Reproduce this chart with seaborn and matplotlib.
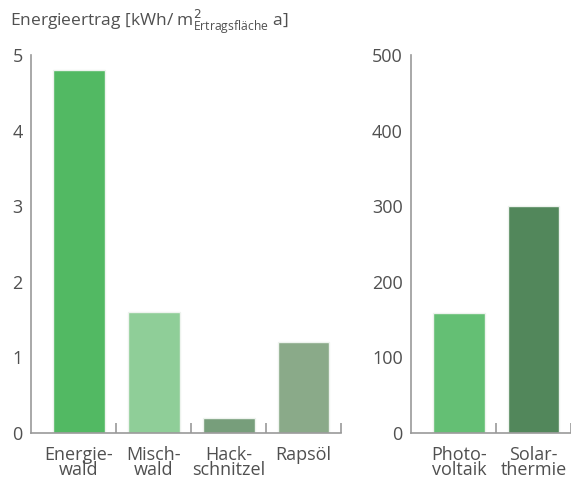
import matplotlib
matplotlib.use("Agg")
import matplotlib.pyplot as plt
import seaborn as sns

# Biomass (kWh per m2 per year)
bio_labels = ["Energie-\nwald", "Misch-\nwald", "Hack-\nschnitzel", "Rapsöl"]
bio_values = [4.8, 1.6, 0.2, 1.2]
bio_colors = ["#52b963", "#8fce98", "#779e7b", "#8aaa89"]

# Solar (kWh per m2 per year)
sol_labels = ["Photo-\nvoltaik", "Solar-\nthermie"]
sol_values = [159, 300]
sol_colors = ["#64bf74", "#52875b"]

sns.set_theme(style="white")
plt.rcParams["font.family"] = ["Open Sans", "DejaVu Sans"]

text_color = "#505050"
spine_color = "#999999"

fig = plt.figure(figsize=(5.71, 4.79), dpi=100)
ax1 = fig.add_axes([31 / 571, 46 / 479, 310 / 571, 378 / 479])
ax2 = fig.add_axes([411 / 571, 46 / 479, 160 / 571, 378 / 479])


def style_axis(ax, labels, values, colors, ymax, yticks, xlim):
    sns.barplot(x=labels, y=values, hue=labels, palette=colors, width=0.69,
                edgecolor="#eef3ee", linewidth=1.0, legend=False, ax=ax,
                saturation=1)
    ax.set_xlim(*xlim)
    ax.set_ylim(0, ymax)
    ax.set_yticks(yticks)
    ax.set_xlabel("")
    ax.set_ylabel("")
    for side in ["top", "right"]:
        ax.spines[side].set_visible(False)
    for side in ["left", "bottom"]:
        ax.spines[side].set_color(spine_color)
        ax.spines[side].set_linewidth(1.2)
    ax.tick_params(axis="y", direction="in", length=6, width=1.2,
                   color=spine_color, labelsize=13, labelcolor=text_color, pad=6)
    ax.tick_params(axis="x", which="major", length=0, labelsize=13,
                   labelcolor=text_color, pad=9)
    ax.set_xticks([i + 0.5 for i in range(len(labels))], minor=True)
    ax.tick_params(axis="x", which="minor", direction="in", length=7,
                   width=1.2, color=spine_color, bottom=True)
    for t in ax.get_xticklabels():
        t.set_linespacing(0.8)
    ax.grid(False)
    ax.set_facecolor("white")


style_axis(ax1, bio_labels, bio_values, bio_colors, 5, range(0, 6), (-0.64, 3.5))
style_axis(ax2, sol_labels, sol_values, sol_colors, 500, range(0, 501, 100), (-0.64, 1.48))

fig.text(10 / 571, 1 - 22 / 479,
         "Energieertrag [kWh/ m$^{2}_{\\mathregular{Ertragsfläche}}$ a]",
         fontsize=12.5, color=text_color, va="center", ha="left")

fig.savefig("out.png", dpi=100)
